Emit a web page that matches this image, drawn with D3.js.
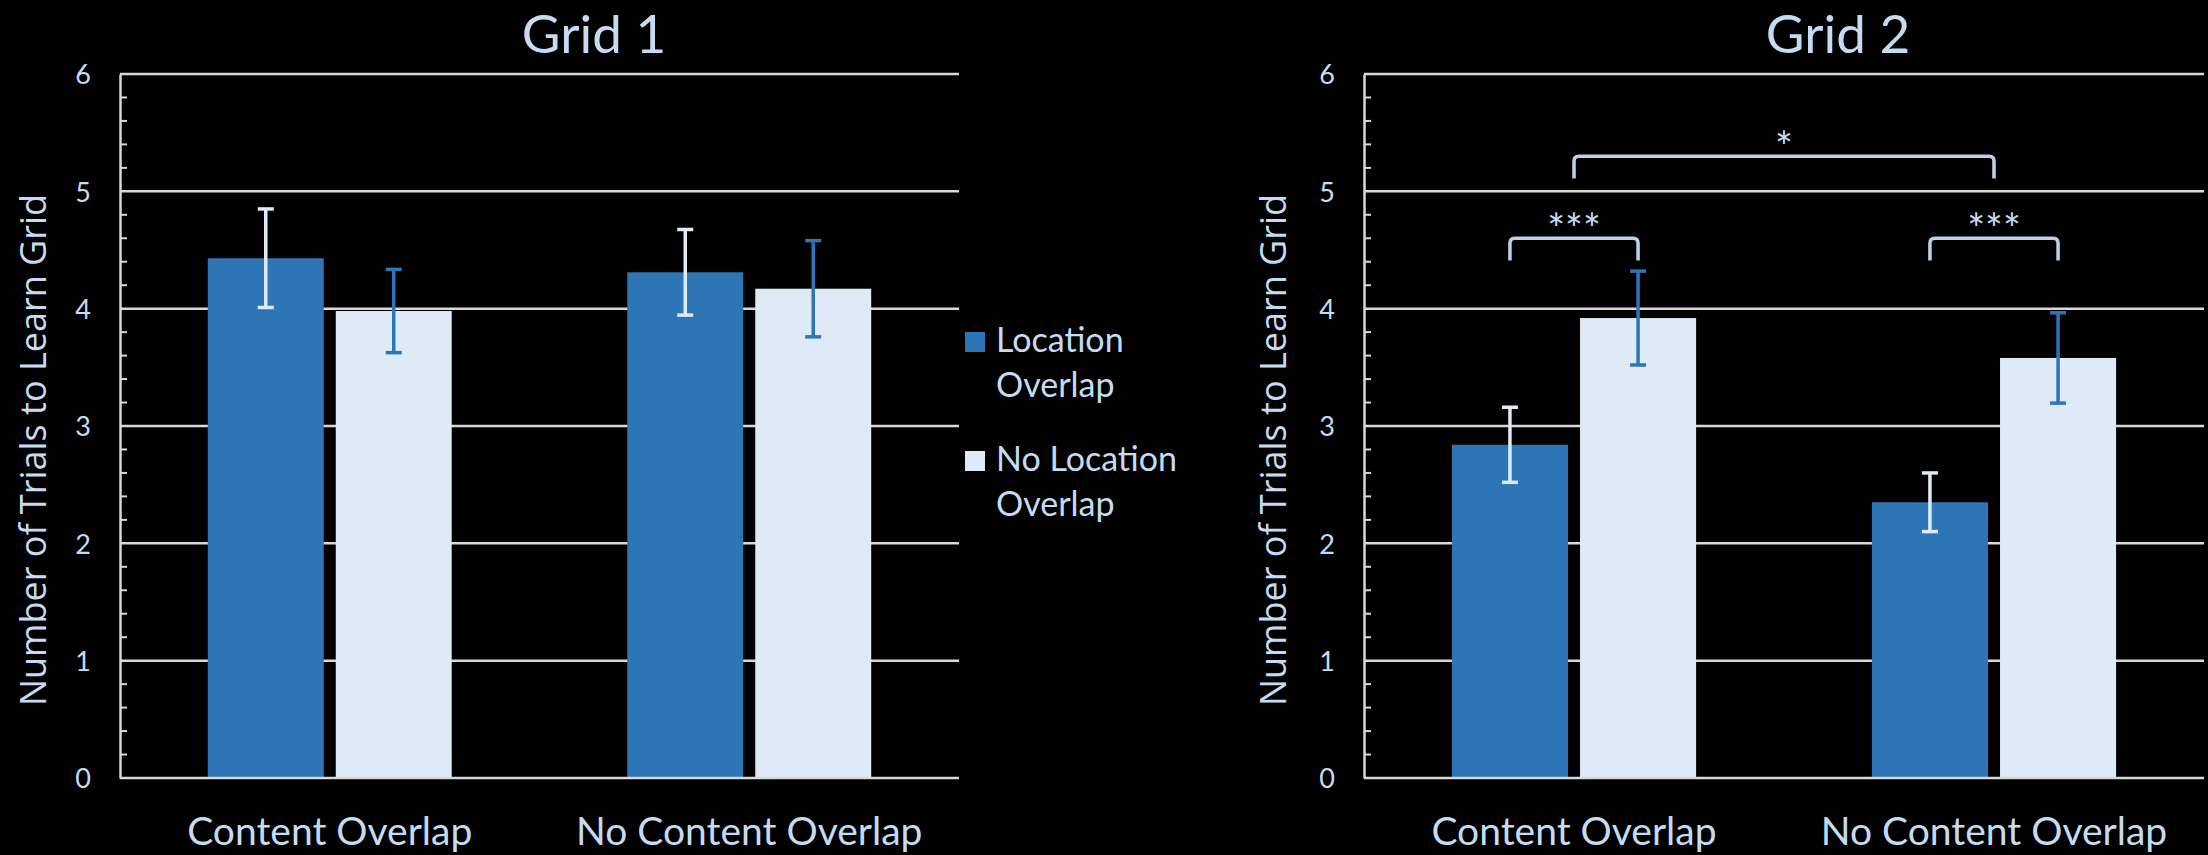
<!DOCTYPE html>
<html>
<head>
<meta charset="utf-8">
<title>Grid 1 / Grid 2</title>
<script src="https://cdn.jsdelivr.net/npm/d3@7"></script>
<style>
  body { margin: 0; background: #000; }
  svg { display: block; background: #000; }
  .txt { fill: #c4dcf2; font-family: Lato, "Open Sans", sans-serif; }
</style>
</head>
<body>
<script>

// data
var categories = ["Content Overlap", "No Content Overlap"];
var seriesNames = ["Location Overlap", "No Location Overlap"];
var yTicks = [0, 1, 2, 3, 4, 5, 6];

var grid1Location = [4.43, 4.31];
var grid1LocationErr = [0.42, 0.365];
var grid1NoLocation = [3.98, 4.17];
var grid1NoLocationErr = [0.355, 0.41];

var grid2Location = [2.84, 2.35];
var grid2LocationErr = [0.32, 0.25];
var grid2NoLocation = [3.92, 3.58];
var grid2NoLocationErr = [0.40, 0.385];

// significance brackets for grid 2: a/b are [category, series] (series -1 = whole group)
var grid2Brackets = [
  {label: "***", a: [0, 0], b: [0, 1], top: 4.6, foot: 4.41},
  {label: "***", a: [1, 0], b: [1, 1], top: 4.6, foot: 4.41},
  {label: "*", a: [0, -1], b: [1, -1], top: 5.3, foot: 5.11}
];

var width = 2208, height = 855;
var barColors = ["#2e75b6", "#deebf7"];
var errColors = ["#deebf7", "#2e75b6"];
var gridColor = "#d9d9d9";
var bracketColor = "#b9d3ec";

var svg = d3.select("body").append("svg")
    .attr("width", width)
    .attr("height", height);

var y = d3.scaleLinear().domain([0, 6]).range([778, 74]);

function drawPanel(opts) {
  var g = svg.append("g");

  var x0 = d3.scaleBand()
      .domain(categories)
      .range([opts.left, opts.right])
      .paddingInner(0).paddingOuter(0);

  var x1 = d3.scaleBand()
      .domain(seriesNames)
      .range([0, x0.bandwidth()])
      .paddingInner(0.094)
      .paddingOuter(0.686);

  // gridlines
  g.append("g").selectAll("line")
      .data(yTicks.filter(function(d) { return d > 0; }))
      .enter().append("line")
      .attr("x1", opts.left).attr("x2", opts.right)
      .attr("y1", function(d) { return y(d); })
      .attr("y2", function(d) { return y(d); })
      .attr("stroke", gridColor)
      .attr("stroke-width", 2.5);

  // minor ticks pointing inside
  var minor = d3.range(0, 6.001, 0.2).filter(function(d) { return Math.abs(d - Math.round(d)) > 0.01; });
  g.append("g").selectAll("line")
      .data(minor)
      .enter().append("line")
      .attr("x1", opts.left).attr("x2", opts.left + 7)
      .attr("y1", function(d) { return y(d); })
      .attr("y2", function(d) { return y(d); })
      .attr("stroke", gridColor)
      .attr("stroke-width", 2);

  // axis line + tick labels
  var axis = g.append("g")
      .attr("transform", "translate(" + opts.left + ",0)")
      .call(d3.axisLeft(y).tickValues(yTicks).tickFormat(d3.format("d"))
            .tickSize(0).tickPadding(29));
  axis.select(".domain").attr("stroke", gridColor).attr("stroke-width", 2.5);
  axis.selectAll("text")
      .attr("class", "txt")
      .style("font-size", "27px")
      .attr("dy", "0.36em");

  var rows = [];
  categories.forEach(function(c, i) {
    seriesNames.forEach(function(s, j) {
      rows.push({cat: c, ser: s, si: j,
                 value: opts.values[j][i],
                 err: opts.errors[j][i]});
    });
  });

  g.append("g").selectAll("rect")
      .data(rows)
      .enter().append("rect")
      .attr("x", function(d) { return x0(d.cat) + x1(d.ser); })
      .attr("width", x1.bandwidth())
      .attr("y", function(d) { return y(d.value); })
      .attr("height", function(d) { return y(0) - y(d.value); })
      .attr("fill", function(d) { return barColors[d.si]; });

  // x axis baseline
  g.append("line")
      .attr("x1", opts.left).attr("x2", opts.right)
      .attr("y1", y(0)).attr("y2", y(0))
      .attr("stroke", gridColor)
      .attr("stroke-width", 2.5);

  // error bars
  var eb = g.append("g").selectAll("g")
      .data(rows)
      .enter().append("g")
      .attr("stroke", function(d) { return errColors[d.si]; })
      .attr("stroke-width", 3.5)
      .attr("transform", function(d) {
        return "translate(" + (x0(d.cat) + x1(d.ser) + x1.bandwidth() / 2) + ",0)";
      });
  eb.append("line")
      .attr("y1", function(d) { return y(d.value + d.err); })
      .attr("y2", function(d) { return y(d.value - d.err); });
  eb.append("line")
      .attr("x1", -8).attr("x2", 8)
      .attr("y1", function(d) { return y(d.value + d.err); })
      .attr("y2", function(d) { return y(d.value + d.err); });
  eb.append("line")
      .attr("x1", -8).attr("x2", 8)
      .attr("y1", function(d) { return y(d.value - d.err); })
      .attr("y2", function(d) { return y(d.value - d.err); });

  // category labels
  g.append("g").selectAll("text")
      .data(categories)
      .enter().append("text")
      .attr("class", "txt")
      .attr("x", function(d) { return x0(d) + x0.bandwidth() / 2; })
      .attr("y", 845)
      .attr("text-anchor", "middle")
      .style("font-size", "39px")
      .text(function(d) { return d; });

  // title
  g.append("text")
      .attr("class", "txt")
      .attr("x", opts.titleX)
      .attr("y", 53)
      .attr("text-anchor", "middle")
      .style("font-size", "53px")
      .text(opts.title);

  // y axis title
  g.append("text")
      .attr("class", "txt")
      .attr("transform", "translate(" + opts.yTitleX + ",450) rotate(-90)")
      .attr("text-anchor", "middle")
      .style("font-family", "'Open Sans', sans-serif")
      .style("font-size", "36px")
      .text("Number of Trials to Learn Grid");

  // significance brackets
  if (opts.brackets) {
    function bx(p) {
      var c = categories[p[0]];
      if (p[1] < 0) return x0(c) + x0.bandwidth() / 2;
      return x0(c) + x1(seriesNames[p[1]]) + x1.bandwidth() / 2;
    }
    opts.brackets.forEach(function(b) {
      var xa = bx(b.a), xb = bx(b.b), yt = y(b.top), yf = y(b.foot), r = 5;
      g.append("path")
          .attr("d", "M" + xa + "," + yf + "V" + (yt + r) +
                "Q" + xa + "," + yt + " " + (xa + r) + "," + yt +
                "H" + (xb - r) +
                "Q" + xb + "," + yt + " " + xb + "," + (yt + r) +
                "V" + yf)
          .attr("fill", "none")
          .attr("stroke", bracketColor)
          .attr("stroke-width", 3.5);
      g.append("text")
          .attr("class", "txt")
          .attr("x", (xa + xb) / 2)
          .attr("y", yt + 6)
          .attr("text-anchor", "middle")
          .style("font-size", "42px")
          .text(b.label);
    });
  }
  return g;
}

drawPanel({
  left: 120, right: 959, title: "Grid 1", titleX: 594, yTitleX: 46,
  values: [grid1Location, grid1NoLocation],
  errors: [grid1LocationErr, grid1NoLocationErr]
});

drawPanel({
  left: 1364, right: 2204, title: "Grid 2", titleX: 1838, yTitleX: 1286,
  values: [grid2Location, grid2NoLocation],
  errors: [grid2LocationErr, grid2NoLocationErr],
  brackets: grid2Brackets
});

// legend (sits between the two panels)
var legendLines = [["Location", "Overlap"], ["No Location", "Overlap"]];
var legend = svg.append("g").selectAll("g")
    .data(seriesNames)
    .enter().append("g")
    .attr("transform", function(d, i) { return "translate(965," + (332 + i * 119) + ")"; });
legend.append("rect")
    .attr("width", 20).attr("height", 20)
    .attr("fill", function(d, i) { return barColors[i]; });
legend.append("text")
    .attr("class", "txt")
    .style("font-size", "34px")
    .selectAll("tspan")
    .data(function(d, i) { return legendLines[i]; })
    .enter().append("tspan")
    .attr("x", 31)
    .attr("y", function(d, k) { return 20 + k * 45; })
    .text(function(d) { return d; });

</script>
</body>
</html>
